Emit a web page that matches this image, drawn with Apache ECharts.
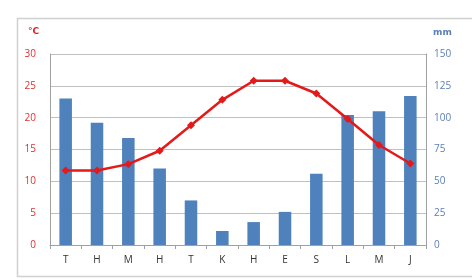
<!DOCTYPE html>
<html><head><meta charset="utf-8">
<script src="https://cdn.jsdelivr.net/npm/echarts@6/dist/echarts.min.js"></script>
<style>html,body{margin:0;padding:0;background:#fff}#c{width:472px;height:280px}</style>
</head><body><div id="c"></div>
<script>
var categories = ['T','H','M','H','T','K','H','E','S','L','M','J'];
var precipitation = [115, 96, 84, 60, 35, 11, 18, 26, 56, 102, 105, 117];
var temperature = [11.7, 11.7, 12.7, 14.8, 18.8, 22.8, 25.8, 25.8, 23.8, 19.8, 15.7, 12.8];
var chart = echarts.init(document.getElementById('c'), null, {renderer:'canvas'});
chart.setOption({
  animation:false,
  backgroundColor:'#fff',
  graphic:[{type:'rect',shape:{x:17.5,y:18.5,width:470,height:258},style:{fill:'none',stroke:'#d0d0d0',lineWidth:1.5},z:-1},
    {type:'text',left:28,top:27,style:{text:'°C',fill:'#e02020',font:'bold 9px "DejaVu Sans"'}},
    {type:'text',left:433,top:28,style:{text:'mm',fill:'#5a7fb8',font:'bold 9px "DejaVu Sans"'}}],
  grid:{left:50,right:46,top:54,bottom:35},
  xAxis:{type:'category',data:categories,boundaryGap:true,
    axisLine:{lineStyle:{color:'#a0a0a0',width:1}},
    axisTick:{show:true,length:4,lineStyle:{color:'#a0a0a0'}},
    axisLabel:{color:'#333',fontSize:10,margin:10,fontFamily:'Open Sans'}},
  yAxis:[{type:'value',min:0,max:30,interval:5,position:'left',
    axisLine:{show:true,lineStyle:{color:'#a0a0a0'}},axisTick:{show:false},
    axisLabel:{color:'#e03030',fontSize:10,margin:14,fontFamily:'Open Sans'},
    splitLine:{lineStyle:{color:'#c0c0c0',width:1}}},
   {type:'value',min:0,max:150,interval:25,position:'right',
    axisLine:{show:true,lineStyle:{color:'#a0a0a0'}},axisTick:{show:false},
    axisLabel:{color:'#5a7fb8',fontSize:10,margin:8,fontFamily:'Open Sans'},
    splitLine:{show:false}}],
  series:[{type:'bar',yAxisIndex:1,data:precipitation,barWidth:'40%',itemStyle:{color:'#4f81bd'}},
   {type:'line',yAxisIndex:0,data:temperature,symbol:'diamond',symbolSize:8,
    lineStyle:{color:'#e41a1a',width:2.5},itemStyle:{color:'#e41a1a'}}]
});
</script></body></html>
